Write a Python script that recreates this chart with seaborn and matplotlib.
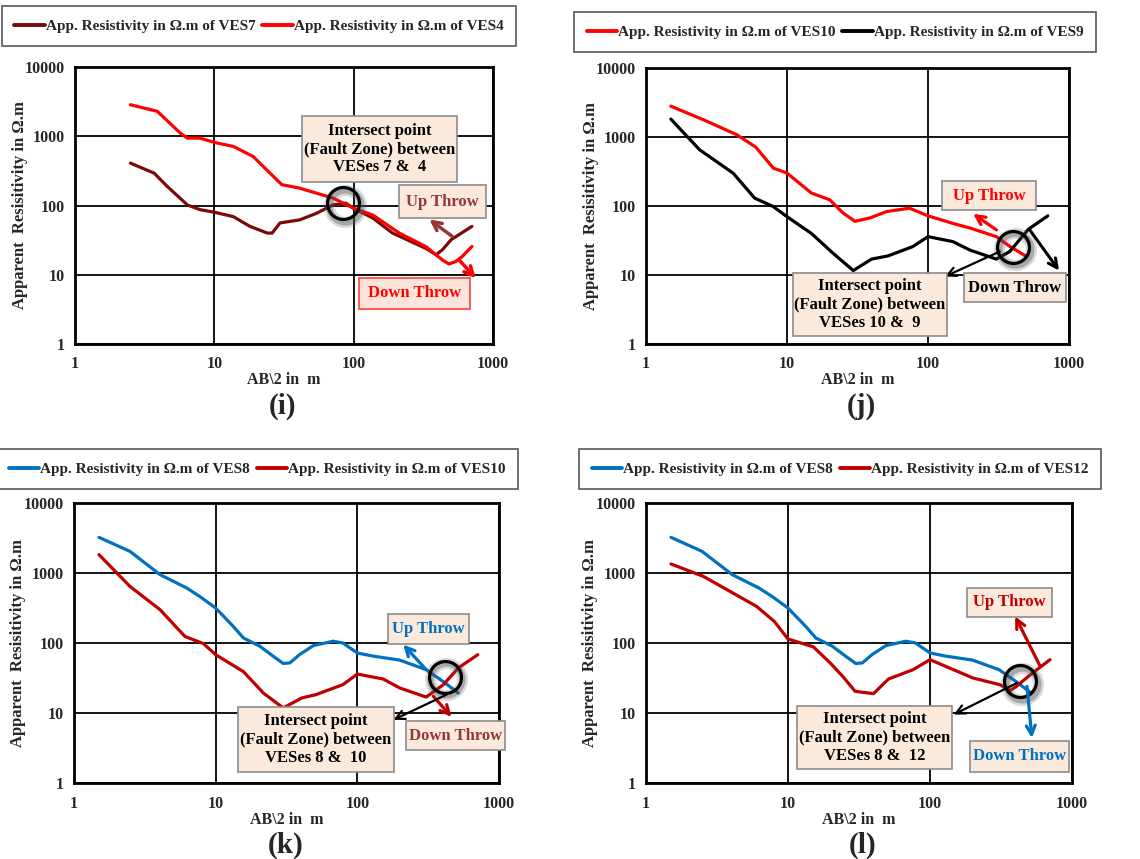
import numpy as np
import pandas as pd
import seaborn as sns
import matplotlib
matplotlib.use("Agg")
import matplotlib.pyplot as plt
import matplotlib.transforms as mtransforms
from matplotlib.lines import Line2D
from matplotlib.patches import Rectangle
from matplotlib.ticker import FixedLocator, LogLocator, NullFormatter

# ---------------------------------------------------------------- data
x_ticks = [1, 10, 100, 1000]
y_ticks = [1, 10, 100, 1000, 10000]

# (i) VES7 vs VES4
ves7_x = [2.5, 3.7, 4.6, 6.4, 7.9, 10, 13.7, 18, 24, 26, 29.6, 41, 54, 71, 88, 100, 137, 190, 330, 390, 434, 500, 706]
ves7_y = [409, 293, 188, 102, 87, 80, 69, 50, 40, 40, 56, 62, 77, 102, 108, 91, 66, 40, 24, 19.4, 23, 32, 50]
ves4_x = [2.5, 3.9, 5.7, 6.4, 7.9, 10, 13.7, 19, 23.7, 30.5, 41, 71, 100, 137, 212, 330, 434, 483, 540, 600, 706]
ves4_y = [2850, 2290, 1110, 940, 940, 815, 713, 510, 328, 200, 178, 128, 91, 73, 40, 25.5, 16.3, 14.3, 15.5, 18.3, 25.6]

# (j) VES10 vs VES9
ves10j_x = [1.5, 2.55, 4.4, 6.0, 8.0, 10, 14.9, 20.1, 25, 30.3, 38.7, 50.8, 74, 100, 150, 198, 305, 380, 500]
ves10j_y = [2800, 1780, 1080, 714, 354, 300, 154, 123, 79, 60, 67, 83, 93, 72, 56, 48, 36, 26, 18.5]
ves9_x = [1.5, 2.4, 4.15, 5.9, 8.0, 10, 14.9, 21.2, 29.5, 39.8, 52, 78, 100, 150, 198, 305, 380, 515, 707]
ves9_y = [1820, 653, 299, 130, 98, 70, 40, 20.7, 11.6, 17, 18.9, 25.8, 36, 30.5, 23, 17, 21.9, 46, 72]

# (k) VES8 vs VES10, (l) VES8 vs VES12
ves8_x = [1.5, 2.48, 4.05, 6.24, 7.7, 10, 13.3, 15.7, 20.5, 25.5, 30, 33.4, 39, 49, 67.5, 79, 100, 129, 199, 306, 405, 516]
ves8_y = [3230, 2040, 947, 611, 464, 316, 173, 118, 90, 64.6, 51, 52, 68, 92, 106, 100, 72, 65, 57, 41.6, 28, 19.3]
ves10k_x = [1.5, 2.48, 4.05, 6.07, 8.2, 10, 15.7, 21.7, 30, 40.5, 51, 79, 100, 152, 199, 306, 405, 516, 708]
ves10k_y = [1830, 645, 299, 124, 98, 68, 39, 19.3, 11.8, 16.4, 18.3, 25.4, 36, 30.6, 22.8, 16.9, 25.4, 44, 68]
ves12_x = [1.5, 2.53, 3.9, 6.0, 8.0, 10, 15.1, 19.8, 24.4, 29.7, 40, 51, 76, 100, 146, 201, 310, 367, 406, 507, 700]
ves12_y = [1345, 896, 547, 334, 204, 114, 88, 52, 33, 20.4, 18.9, 30.6, 41.6, 57.8, 41.6, 31.6, 25.4, 21, 24, 35, 57.8]

C_MAROON = "#7A0A0A"
C_RED = "#FF0000"
C_DKRED = "#C00000"
C_BLUE = "#0070C0"
C_BROWN = "#953735"

FONT = ["Liberation Serif", "DejaVu Serif"]

sns.set_style("white")
plt.rcParams["font.family"] = FONT
plt.rcParams["font.weight"] = "bold"
plt.rcParams["axes.labelweight"] = "bold"

W, H = 1140, 859
fig = plt.figure(figsize=(W / 100, H / 100), dpi=100)


def rect(x0, y0, x1, y1):
    """Pixel box (top-left origin) -> figure-fraction rectangle."""
    return [x0 / W, 1 - y1 / H, (x1 - x0) / W, (y1 - y0) / H]


def panel(box, series, legend_center):
    ax = fig.add_axes(rect(*box))
    ax.set_xscale("log")
    ax.set_yscale("log")
    frames = [pd.DataFrame({"AB2": xs, "rho": ys, "VES": name}) for name, xs, ys, _ in series]
    df = pd.concat(frames, ignore_index=True)
    palette = {name: c for name, _, _, c in series}
    sns.lineplot(data=df, x="AB2", y="rho", hue="VES", palette=palette, ax=ax,
                 sort=False, estimator=None, linewidth=2.3, legend=False, zorder=3)
    ax.set_xlim(1, 1000)
    ax.set_ylim(1, 10000)
    ax.xaxis.set_major_locator(FixedLocator(x_ticks))
    ax.yaxis.set_major_locator(FixedLocator(y_ticks))
    ax.set_xticklabels([str(v) for v in x_ticks])
    ax.set_yticklabels([str(v) for v in y_ticks])
    ax.xaxis.set_minor_locator(LogLocator(base=10, subs=range(2, 10)))
    ax.yaxis.set_minor_locator(LogLocator(base=10, subs=range(2, 10)))
    ax.xaxis.set_minor_formatter(NullFormatter())
    ax.yaxis.set_minor_formatter(NullFormatter())
    ax.tick_params(axis="x", which="major", direction="in", length=0, labelsize=11.5, pad=9)
    ax.tick_params(axis="x", which="minor", direction="in", length=4, width=1.3)
    ax.tick_params(axis="y", which="major", direction="inout", length=8, width=1.6, labelsize=11.5, pad=3)
    ax.tick_params(axis="y", which="minor", direction="inout", length=7, width=1.3)
    for lab in ax.get_xticklabels() + ax.get_yticklabels():
        lab.set_fontweight("bold")
    ax.grid(True, which="major", color="black", linewidth=1.3)
    ax.grid(False, which="minor")
    for s in ax.spines.values():
        s.set_visible(True)
        s.set_color("black")
        s.set_linewidth(2)
    ax.set_xlabel("AB\\2 in  m", fontsize=11.5, fontweight="bold", labelpad=0)
    ax.set_ylabel("Apparent  Resisitivity in Ω.m", fontsize=12, fontweight="bold")
    ax.yaxis.set_label_coords(-0.112, 0.5)

    handles = [Line2D([], [], color=c, lw=2.8) for _, _, _, c in series]
    labels = [name for name, _, _, _ in series]
    leg = fig.legend(handles, labels, loc="center",
                     bbox_to_anchor=(legend_center[0] / W, 1 - legend_center[1] / H),
                     ncol=2, frameon=True, fancybox=False, edgecolor="#404040",
                     prop=dict(family=FONT, weight="bold", size=11),
                     handlelength=2.0, handletextpad=0.05, columnspacing=0.45, borderpad=0.85,
                     borderaxespad=0)
    leg.get_frame().set_linewidth(1.3)
    return ax


def ring(ax, x, y, size=23):
    shift = mtransforms.offset_copy(ax.transData, fig=fig, x=1.5, y=-2.5, units="dots")
    ax.plot([x], [y], marker="o", ms=size, mfc="none", mec=(0.35, 0.35, 0.35, 0.22), mew=8,
            transform=shift, zorder=5)
    ax.plot([x], [y], marker="o", ms=size, mfc="none", mec=(0.3, 0.3, 0.3, 0.35), mew=4.5,
            transform=shift, zorder=5)
    ax.plot([x], [y], marker="o", ms=size, mfc="none", mec="black", mew=2.3, zorder=6)


def arrow(ax, start, tip, color, lw=2.0):
    ax.annotate("", xy=tip, xytext=start,
                arrowprops=dict(arrowstyle="->", color=color, lw=lw, mutation_scale=16,
                                shrinkA=0, shrinkB=0), zorder=7)


def note(x0, y0, x1, y1, text, color="black", edge="#8C8C8C", face="#FBEADB", size=12):
    fig.add_artist(Rectangle((x0 / W, 1 - y1 / H), (x1 - x0) / W, (y1 - y0) / H,
                             transform=fig.transFigure, facecolor=face, edgecolor=edge,
                             linewidth=1.2, zorder=8))
    fig.text((x0 + x1) / 2 / W, 1 - (y0 + y1) / 2 / H, text, ha="center", va="center",
             color=color, fontsize=size, fontweight="bold", linespacing=1.2, zorder=9)


# ---------------------------------------------------------------- (i)
ax = panel((75, 67, 493, 344),
           [("App. Resistivity in Ω.m of VES7", ves7_x, ves7_y, C_MAROON),
            ("App. Resistivity in Ω.m of VES4", ves4_x, ves4_y, C_RED)],
           (259, 26))
ring(ax, 84, 108)
arrow(ax, (512, 35.6), (349, 63), C_BROWN, lw=2.5)
arrow(ax, (571, 16.4), (752, 8.9), C_RED, lw=2.5)
note(302, 116, 457, 182, "Intersect point\n(Fault Zone) between\nVESes 7 &  4")
note(399, 185, 486, 218, "Up Throw", color=C_BROWN)
note(359, 278, 470, 309, "Down Throw", color=C_RED, edge="#FF4040", face="#FCE4DA")

# ---------------------------------------------------------------- (j)
ax = panel((646, 68, 1069, 344),
           [("App. Resistivity in Ω.m of VES10", ves10j_x, ves10j_y, C_RED),
            ("App. Resistivity in Ω.m of VES9", ves9_x, ves9_y, "black")],
           (835, 32))
ring(ax, 401, 25.8)
arrow(ax, (306, 45), (209, 77), C_RED, lw=2.3)
arrow(ax, (527, 45), (850, 11.6), "black", lw=2.2)
arrow(ax, (323, 21.9), (132, 9.5), "black", lw=1.6)
note(942, 181, 1036, 210, "Up Throw", color=C_RED)
note(964, 273, 1066, 302, "Down Throw", color="black")
note(793, 273, 947, 336, "Intersect point\n(Fault Zone) between\nVESes 10 &  9")

# ---------------------------------------------------------------- (k)
ax = panel((74, 503, 499, 783),
           [("App. Resistivity in Ω.m of VES8", ves8_x, ves8_y, C_BLUE),
            ("App. Resistivity in Ω.m of VES10", ves10k_x, ves10k_y, C_DKRED)],
           (257, 469))
ring(ax, 415, 32.7)
arrow(ax, (306, 41.6), (211, 95), C_BLUE, lw=2.3)
arrow(ax, (344, 17.3), (463, 8.8), C_DKRED, lw=2.3)
arrow(ax, (427, 18.3), (180, 8.0), "black", lw=1.6)
note(388, 614, 469, 644, "Up Throw", color=C_BLUE)
note(406, 721, 505, 750, "Down Throw", color=C_BROWN)
note(238, 707, 394, 772, "Intersect point\n(Fault Zone) between\nVESes 8 &  10")

# ---------------------------------------------------------------- (l)
ax = panel((646, 503, 1072, 783),
           [("App. Resistivity in Ω.m of VES8", ves8_x, ves8_y, C_BLUE),
            ("App. Resistivity in Ω.m of VES12", ves12_x, ves12_y, C_DKRED)],
           (840, 469))
ring(ax, 432, 28.3)
arrow(ax, (598, 46), (398, 240), C_DKRED, lw=2.3)
arrow(ax, (482, 24), (522, 4.4), C_BLUE, lw=2.3)
arrow(ax, (409, 26.8), (147, 9.5), "black", lw=1.6)
note(967, 588, 1052, 617, "Up Throw", color=C_DKRED)
note(970, 741, 1069, 772, "Down Throw", color=C_BLUE)
note(797, 706, 952, 769, "Intersect point\n(Fault Zone) between\nVESes 8 &  12")

# ---------------------------------------------------------------- panel letters
for lab, cx, cy in [("(i)", 282, 406), ("(j)", 861, 406), ("(k)", 286, 845), ("(l)", 863, 845)]:
    fig.text(cx / W, 1 - cy / H, lab, ha="center", va="center", fontsize=21, fontweight="bold")

fig.savefig("out.png", dpi=100)
